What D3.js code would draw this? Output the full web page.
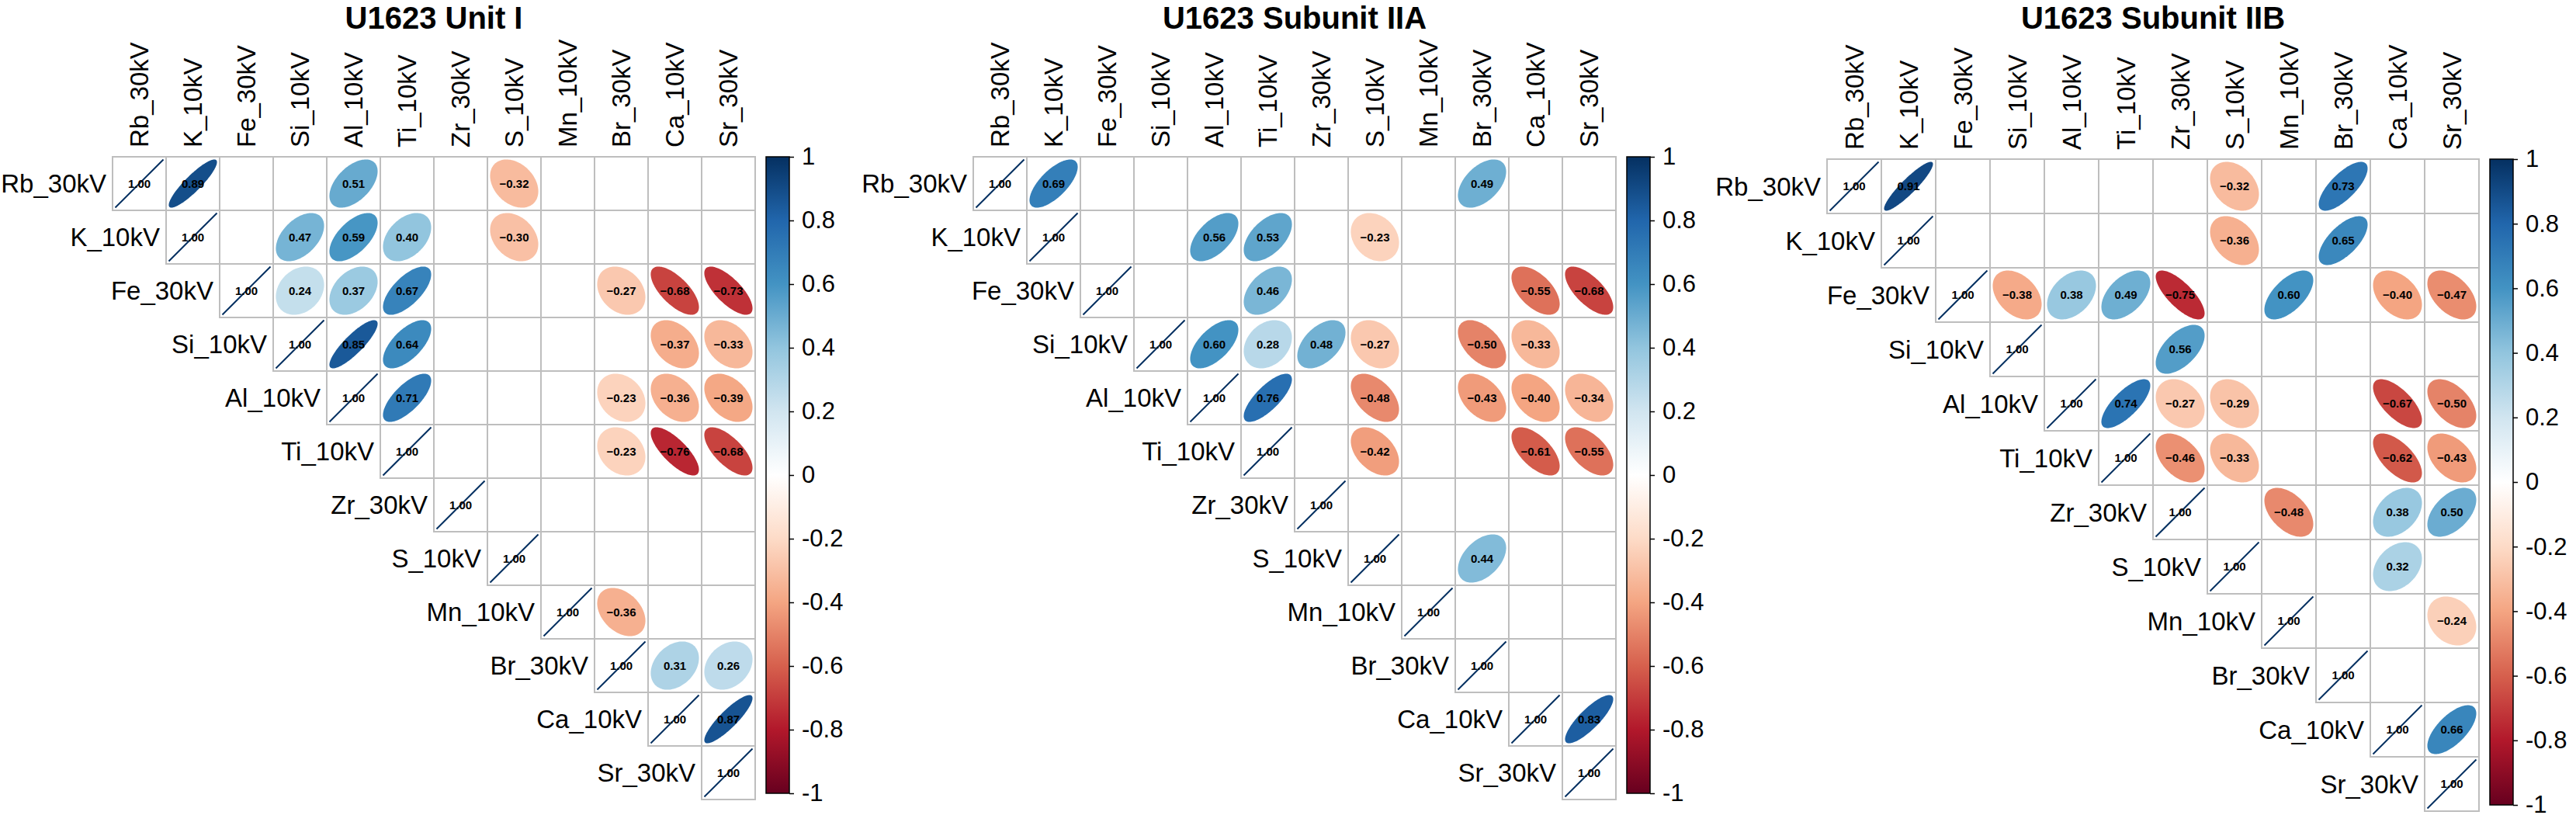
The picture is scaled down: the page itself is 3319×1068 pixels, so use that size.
<!DOCTYPE html>
<html>
<head>
<meta charset="utf-8">
<title>U1623 correlation plots</title>
<script src="https://d3js.org/d3.v7.min.js"></script>
<style>
  body { margin: 0; background: #fff; }
  text { font-family: "Liberation Sans", Arial, sans-serif; }
</style>
</head>
<body>
<svg width="3319" height="1068"></svg>
<script>
// variables, in plot order
const vars = ["Rb_30kV", "K_10kV", "Fe_30kV", "Si_10kV", "Al_10kV", "Ti_10kV",
              "Zr_30kV", "S_10kV", "Mn_10kV", "Br_30kV", "Ca_10kV", "Sr_30kV"];

const titles = ["U1623 Unit I", "U1623 Subunit IIA", "U1623 Subunit IIB"];

// significant correlations: [row, column, r]
const unitI = [
  ["Rb_30kV","K_10kV",0.89],["Rb_30kV","Al_10kV",0.51],["Rb_30kV","S_10kV",-0.32],
  ["K_10kV","Si_10kV",0.47],["K_10kV","Al_10kV",0.59],["K_10kV","Ti_10kV",0.40],["K_10kV","S_10kV",-0.30],
  ["Fe_30kV","Si_10kV",0.24],["Fe_30kV","Al_10kV",0.37],["Fe_30kV","Ti_10kV",0.67],["Fe_30kV","Br_30kV",-0.27],["Fe_30kV","Ca_10kV",-0.68],["Fe_30kV","Sr_30kV",-0.73],
  ["Si_10kV","Al_10kV",0.85],["Si_10kV","Ti_10kV",0.64],["Si_10kV","Ca_10kV",-0.37],["Si_10kV","Sr_30kV",-0.33],
  ["Al_10kV","Ti_10kV",0.71],["Al_10kV","Br_30kV",-0.23],["Al_10kV","Ca_10kV",-0.36],["Al_10kV","Sr_30kV",-0.39],
  ["Ti_10kV","Br_30kV",-0.23],["Ti_10kV","Ca_10kV",-0.76],["Ti_10kV","Sr_30kV",-0.68],
  ["Mn_10kV","Br_30kV",-0.36],
  ["Br_30kV","Ca_10kV",0.31],["Br_30kV","Sr_30kV",0.26],
  ["Ca_10kV","Sr_30kV",0.87]
];

const subunitIIA = [
  ["Rb_30kV","K_10kV",0.69],["Rb_30kV","Br_30kV",0.49],
  ["K_10kV","Al_10kV",0.56],["K_10kV","Ti_10kV",0.53],["K_10kV","S_10kV",-0.23],
  ["Fe_30kV","Ti_10kV",0.46],["Fe_30kV","Ca_10kV",-0.55],["Fe_30kV","Sr_30kV",-0.68],
  ["Si_10kV","Al_10kV",0.60],["Si_10kV","Ti_10kV",0.28],["Si_10kV","Zr_30kV",0.48],["Si_10kV","S_10kV",-0.27],["Si_10kV","Br_30kV",-0.50],["Si_10kV","Ca_10kV",-0.33],
  ["Al_10kV","Ti_10kV",0.76],["Al_10kV","S_10kV",-0.48],["Al_10kV","Br_30kV",-0.43],["Al_10kV","Ca_10kV",-0.40],["Al_10kV","Sr_30kV",-0.34],
  ["Ti_10kV","S_10kV",-0.42],["Ti_10kV","Ca_10kV",-0.61],["Ti_10kV","Sr_30kV",-0.55],
  ["S_10kV","Br_30kV",0.44],
  ["Ca_10kV","Sr_30kV",0.83]
];

const subunitIIB = [
  ["Rb_30kV","K_10kV",0.91],["Rb_30kV","S_10kV",-0.32],["Rb_30kV","Br_30kV",0.73],
  ["K_10kV","S_10kV",-0.36],["K_10kV","Br_30kV",0.65],
  ["Fe_30kV","Si_10kV",-0.38],["Fe_30kV","Al_10kV",0.38],["Fe_30kV","Ti_10kV",0.49],["Fe_30kV","Zr_30kV",-0.75],["Fe_30kV","Mn_10kV",0.60],["Fe_30kV","Ca_10kV",-0.40],["Fe_30kV","Sr_30kV",-0.47],
  ["Si_10kV","Zr_30kV",0.56],
  ["Al_10kV","Ti_10kV",0.74],["Al_10kV","Zr_30kV",-0.27],["Al_10kV","S_10kV",-0.29],["Al_10kV","Ca_10kV",-0.67],["Al_10kV","Sr_30kV",-0.50],
  ["Ti_10kV","Zr_30kV",-0.46],["Ti_10kV","S_10kV",-0.33],["Ti_10kV","Ca_10kV",-0.62],["Ti_10kV","Sr_30kV",-0.43],
  ["Zr_30kV","Mn_10kV",-0.48],["Zr_30kV","Ca_10kV",0.38],["Zr_30kV","Sr_30kV",0.50],
  ["S_10kV","Ca_10kV",0.32],
  ["Mn_10kV","Sr_30kV",-0.24],
  ["Ca_10kV","Sr_30kV",0.66]
];

const colorStops = ["#67001F", "#B2182B", "#D6604D", "#F4A582", "#FDDBC7", "#FFFFFF",
                    "#D1E5F0", "#92C5DE", "#4393C3", "#2166AC", "#053061"];
const legendTicks = [-1, -0.8, -0.6, -0.4, -0.2, 0, 0.2, 0.4, 0.6, 0.8, 1];

const color = d3.scaleLinear()
  .domain(d3.range(colorStops.length).map(i => -1 + 2 * i / (colorStops.length - 1)))
  .range(colorStops)
  .interpolate(d3.interpolateRgb);

const svg = d3.select("svg");
const defs = svg.append("defs");
const grad = defs.append("linearGradient").attr("id", "cbar")
  .attr("x1", 0).attr("y1", 1).attr("x2", 0).attr("y2", 0);
colorStops.forEach((c, i) => grad.append("stop")
  .attr("offset", i / (colorStops.length - 1)).attr("stop-color", c));

const thetas = d3.range(0, 2 * Math.PI + 0.001, Math.PI / 60);

function ellipsePath(r, s) {
  const d = Math.acos(Math.max(-1, Math.min(1, r)));
  return d3.line()(thetas.map(t => [s * Math.cos(t + d / 2), -s * Math.cos(t - d / 2)])) + "Z";
}

function drawPanel(title, pairs, x0, y0, cell) {
  const g = svg.append("g");
  const x = d3.scaleBand().domain(vars).range([x0, x0 + cell * vars.length]);
  const y = d3.scaleBand().domain(vars).range([y0, y0 + cell * vars.length]);
  const n = vars.length;

  // upper triangle grid
  const cells = [];
  vars.forEach((rv, i) => vars.forEach((cv, j) => { if (j >= i) cells.push([rv, cv]); }));
  g.selectAll("rect.cell").data(cells).join("rect")
    .attr("x", d => x(d[1])).attr("y", d => y(d[0]))
    .attr("width", cell).attr("height", cell)
    .attr("fill", "#fff").attr("stroke", "#BEBEBE").attr("stroke-width", 2);

  // diagonal
  const diag = g.selectAll("g.diag").data(vars).join("g")
    .attr("transform", d => `translate(${x(d) + cell / 2},${y(d) + cell / 2})`);
  diag.append("line")
    .attr("x1", -cell * 0.45).attr("y1", cell * 0.45)
    .attr("x2", cell * 0.45).attr("y2", -cell * 0.45)
    .attr("stroke", color(1)).attr("stroke-width", 2);
  diag.append("text").attr("text-anchor", "middle").attr("dy", "0.35em")
    .attr("font-size", 15).attr("font-weight", "bold").text("1.00");

  // ellipses
  const marks = g.selectAll("g.mark").data(pairs).join("g")
    .attr("transform", d => `translate(${x(d[1]) + cell / 2},${y(d[0]) + cell / 2})`);
  marks.append("path").attr("d", d => ellipsePath(d[2], cell * 0.45))
    .attr("fill", d => color(d[2]));
  marks.append("text").attr("text-anchor", "middle").attr("dy", "0.35em")
    .attr("font-size", 15).attr("font-weight", "bold")
    .text(d => d[2].toFixed(2).replace("-", "\u2212"));

  // row labels
  g.selectAll("text.row").data(vars).join("text")
    .attr("x", d => x(d) - 8).attr("y", d => y(d) + cell / 2)
    .attr("text-anchor", "end").attr("dy", "0.35em").attr("font-size", 33).text(d => d);

  // column labels
  g.selectAll("text.col").data(vars).join("text")
    .attr("transform", d => `translate(${x(d) + cell / 2},${y0 - 12}) rotate(-90)`)
    .attr("dy", "0.35em").attr("font-size", 33).text(d => d);

  // title
  g.append("text").attr("x", x0 + cell * n / 2).attr("y", 37)
    .attr("text-anchor", "middle").attr("font-size", 40).attr("font-weight", "bold").text(title);

  // colour bar
  const bx = x0 + cell * n + 14, bw = 30;
  const cy = d3.scaleLinear().domain([-1, 1]).range([y0 + cell * n - 8, y0]);
  g.append("rect").attr("x", bx).attr("y", cy(1)).attr("width", bw).attr("height", cy(-1) - cy(1))
    .attr("fill", "url(#cbar)").attr("stroke", "#000").attr("stroke-width", 1.5);
  const ax = g.append("g").attr("transform", `translate(${bx + bw},0)`)
    .call(d3.axisRight(cy).tickValues(legendTicks).tickSize(6).tickPadding(10)
      .tickFormat(d => d === 0 ? "0" : (Math.round(d * 10) / 10).toString()));
  ax.select(".domain").remove();
  ax.selectAll("text").attr("font-size", 31).attr("font-family", "Liberation Sans, Arial, sans-serif");
  ax.selectAll("line").attr("stroke-width", 1.5);
}

drawPanel(titles[0], unitI, 145, 202, 69);
drawPanel(titles[1], subunitIIA, 1254, 202, 69);
drawPanel(titles[2], subunitIIB, 2354, 205, 70);
</script>
</body>
</html>
